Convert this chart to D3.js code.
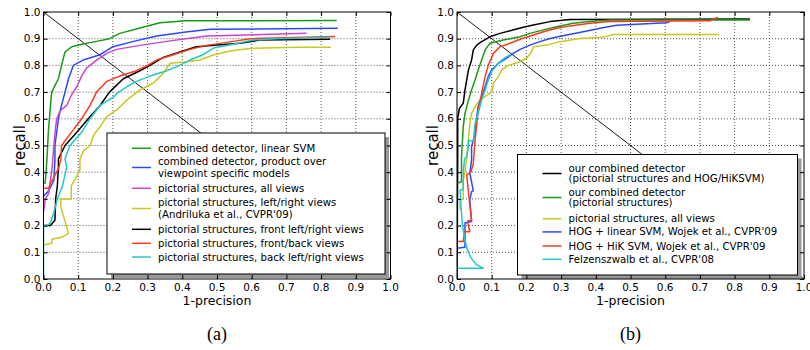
<!DOCTYPE html>
<html>
<head>
<meta charset="utf-8">
<script src="https://cdn.jsdelivr.net/npm/d3@7"></script>
<style>
  body { margin: 0; background: #fff; }
  text { font-family: "DejaVu Sans", sans-serif; fill: #000; }
</style>
</head>
<body>
<div id="chart"></div>
<script>
// ---- data (1-precision, recall) ----
const ticks = [0, 0.1, 0.2, 0.3, 0.4, 0.5, 0.6, 0.7, 0.8, 0.9, 1.0];

// panel (a)
const greenA = [[0,0.36],[0.005,0.36],[0.01,0.45],[0.014,0.55],[0.017,0.6],[0.022,0.68],[0.024,0.7],[0.035,0.73],[0.043,0.75],[0.052,0.8],[0.062,0.85],[0.081,0.87],[0.114,0.88],[0.153,0.89],[0.19,0.9],[0.22,0.92],[0.278,0.94],[0.336,0.96],[0.41,0.967],[0.845,0.968]];
const blueA = [[0,0.31],[0.015,0.33],[0.03,0.37],[0.033,0.45],[0.033,0.5],[0.043,0.6],[0.048,0.63],[0.062,0.7],[0.072,0.75],[0.086,0.8],[0.114,0.82],[0.163,0.84],[0.2,0.87],[0.26,0.89],[0.326,0.91],[0.41,0.925],[0.48,0.935],[0.848,0.939]];
const magentaA = [[0,0.25],[0.005,0.3],[0.015,0.32],[0.02,0.37],[0.025,0.42],[0.03,0.5],[0.035,0.57],[0.038,0.6],[0.048,0.63],[0.067,0.65],[0.081,0.69],[0.096,0.72],[0.11,0.76],[0.124,0.79],[0.153,0.82],[0.182,0.845],[0.21,0.86],[0.278,0.875],[0.355,0.89],[0.41,0.9],[0.47,0.91],[0.758,0.92]];
const yellowA = [[0,0.127],[0.024,0.134],[0.024,0.149],[0.052,0.156],[0.072,0.171],[0.05,0.27],[0.05,0.3],[0.08,0.3],[0.08,0.35],[0.09,0.37],[0.105,0.408],[0.105,0.45],[0.115,0.48],[0.134,0.5],[0.145,0.54],[0.163,0.57],[0.182,0.608],[0.211,0.633],[0.24,0.67],[0.278,0.708],[0.316,0.733],[0.345,0.77],[0.365,0.808],[0.413,0.814],[0.451,0.82],[0.489,0.839],[0.528,0.851],[0.557,0.858],[0.605,0.864],[0.73,0.868],[0.828,0.868]];
const blackA = [[0,0.2],[0.02,0.2],[0.033,0.22],[0.035,0.3],[0.04,0.35],[0.043,0.42],[0.043,0.45],[0.062,0.5],[0.096,0.55],[0.129,0.6],[0.163,0.65],[0.19,0.7],[0.23,0.75],[0.278,0.78],[0.307,0.8],[0.345,0.83],[0.393,0.85],[0.44,0.87],[0.566,0.883],[0.624,0.895],[0.826,0.898]];
const redA = [[0,0.34],[0.015,0.34],[0.02,0.36],[0.03,0.38],[0.045,0.42],[0.05,0.45],[0.052,0.5],[0.081,0.55],[0.11,0.6],[0.134,0.65],[0.153,0.7],[0.182,0.74],[0.22,0.76],[0.268,0.78],[0.3,0.8],[0.326,0.82],[0.374,0.84],[0.422,0.86],[0.47,0.875],[0.547,0.89],[0.595,0.9],[0.84,0.908]];
const cyanA = [[0,0],[0,0.2],[0.01,0.2],[0.02,0.21],[0.03,0.25],[0.04,0.3],[0.055,0.35],[0.06,0.38],[0.067,0.42],[0.062,0.45],[0.076,0.5],[0.11,0.55],[0.134,0.6],[0.163,0.65],[0.2,0.68],[0.216,0.7],[0.24,0.72],[0.268,0.74],[0.307,0.76],[0.355,0.78],[0.393,0.8],[0.422,0.82],[0.46,0.84],[0.49,0.865],[0.55,0.88],[0.604,0.895],[0.67,0.9],[0.826,0.905]];

// panel (b)
const blackB = [[0,0],[0.002,0.45],[0.002,0.602],[0.007,0.639],[0.018,0.658],[0.023,0.708],[0.028,0.745],[0.033,0.783],[0.042,0.82],[0.047,0.858],[0.057,0.876],[0.071,0.889],[0.095,0.907],[0.124,0.92],[0.153,0.93],[0.191,0.943],[0.22,0.951],[0.268,0.964],[0.326,0.972],[0.844,0.974]];
const greenB = [[0,0.358],[0.013,0.364],[0.013,0.458],[0.018,0.57],[0.023,0.62],[0.033,0.67],[0.042,0.708],[0.052,0.745],[0.061,0.783],[0.071,0.82],[0.081,0.858],[0.095,0.883],[0.133,0.895],[0.182,0.907],[0.21,0.92],[0.249,0.933],[0.287,0.945],[0.335,0.958],[0.383,0.964],[0.441,0.97],[0.844,0.97]];
const yellowB = [[0.009,0.258],[0.009,0.296],[0.018,0.3],[0.018,0.37],[0.023,0.4],[0.028,0.45],[0.037,0.583],[0.042,0.62],[0.052,0.645],[0.066,0.67],[0.086,0.689],[0.1,0.7],[0.105,0.733],[0.119,0.758],[0.129,0.783],[0.148,0.8],[0.182,0.814],[0.2,0.826],[0.215,0.851],[0.22,0.87],[0.258,0.876],[0.297,0.889],[0.354,0.901],[0.42,0.905],[0.45,0.916],[0.756,0.916]];
const blueB = [[0,0.115],[0.023,0.119],[0.023,0.21],[0.042,0.215],[0.037,0.296],[0.042,0.327],[0.047,0.33],[0.037,0.396],[0.042,0.446],[0.042,0.495],[0.052,0.546],[0.057,0.608],[0.061,0.645],[0.071,0.683],[0.081,0.72],[0.09,0.758],[0.1,0.783],[0.119,0.808],[0.143,0.827],[0.162,0.845],[0.182,0.86],[0.21,0.876],[0.239,0.889],[0.268,0.901],[0.316,0.914],[0.364,0.926],[0.412,0.939],[0.46,0.95],[0.604,0.96],[0.614,0.964]];
const redB = [[0,0.14],[0.018,0.14],[0.021,0.177],[0.037,0.177],[0.03,0.217],[0.042,0.22],[0.035,0.3],[0.028,0.39],[0.04,0.4],[0.047,0.433],[0.052,0.52],[0.057,0.583],[0.061,0.633],[0.071,0.695],[0.081,0.758],[0.09,0.8],[0.105,0.845],[0.124,0.87],[0.153,0.883],[0.182,0.898],[0.22,0.914],[0.249,0.926],[0.287,0.939],[0.326,0.948],[0.383,0.958],[0.441,0.964],[0.729,0.967],[0.744,0.976],[0.752,0.98]];
const cyanB = [[0,0.04],[0.076,0.04],[0.055,0.055],[0.04,0.08],[0.03,0.11],[0.022,0.15],[0.016,0.2],[0.012,0.26],[0.009,0.333],[0.018,0.333],[0.018,0.4],[0.022,0.45],[0.028,0.458],[0.033,0.495],[0.033,0.52],[0.047,0.514],[0.052,0.583],[0.061,0.62],[0.071,0.67],[0.081,0.708],[0.09,0.745],[0.1,0.777],[0.114,0.8],[0.129,0.82],[0.143,0.833],[0.153,0.839]];

const labelsA = [
  ['combined detector, linear SVM'],
  ['combined detector, product over', 'viewpoint specific models'],
  ['pictorial structures, all views'],
  ['pictorial structures, left/right views', '(Andriluka et al., CVPR\'09)'],
  ['pictorial structures, front left/right views'],
  ['pictorial structures, front/back views'],
  ['pictorial structures, back left/right views']
];
const labelsB = [
  ['our combined detector', '(pictorial structures and HOG/HiKSVM)'],
  ['our combined detector', '(pictorial structures)'],
  ['pictorial structures, all views'],
  ['HOG + linear SVM, Wojek et al., CVPR\'09'],
  ['HOG + HiK SVM, Wojek et al., CVPR\'09'],
  ['Felzenszwalb et al., CVPR\'08']
];

const C = { green: '#1a9a1a', blue: '#2a48ff', magenta: '#cc44cc', yellow: '#c8c820', black: '#000', red: '#ff3a1a', cyan: '#22c8c8' };

const panels = [
  { x0: 43.5, series: [greenA, blueA, magentaA, yellowA, blackA, redA, cyanA],
    colors: [C.green, C.blue, C.magenta, C.yellow, C.black, C.red, C.cyan],
    labels: labelsA, caption: '(a)',
    legend: { x: 107, y: 133, w: 278, h: 141, rows: [148.3, 167.5, 188.3, 208.5, 229.3, 243.3, 257], gap: 11.3 } },
  { x0: 457, series: [blackB, greenB, yellowB, blueB, redB, cyanB],
    colors: [C.black, C.green, C.yellow, C.blue, C.red, C.cyan],
    labels: labelsB, caption: '(b)',
    legend: { x: 517.5, y: 154.5, w: 280, h: 120.5, rows: [173.5, 197.5, 218.7, 231.9, 246, 259.3], gap: 10.6 } }
];

const W = 810, H = 350, plotW = 347, plotTop = 12, plotBottom = 279;

const svg = d3.select('#chart').append('svg').attr('width', W).attr('height', H);
svg.append('rect').attr('width', W).attr('height', H).attr('fill', '#fff');

panels.forEach(p => {
  const x = d3.scaleLinear().domain([0, 1]).range([p.x0, p.x0 + plotW]);
  const y = d3.scaleLinear().domain([0, 1]).range([plotBottom, plotTop]);
  const g = svg.append('g');

  const clipId = 'clip' + p.caption.replace(/\W/g, '');
  g.append('clipPath').attr('id', clipId).append('rect')
    .attr('x', x(0)).attr('y', y(1)).attr('width', plotW).attr('height', plotBottom - plotTop);

  // grid
  const inner = ticks.slice(1, -1);
  g.selectAll('.gx').data(inner).enter().append('line')
    .attr('x1', d => x(d)).attr('x2', d => x(d)).attr('y1', y(0)).attr('y2', y(1))
    .attr('stroke', '#555').attr('stroke-width', 1).attr('stroke-dasharray', '1,2');
  g.selectAll('.gy').data(inner).enter().append('line')
    .attr('y1', d => y(d)).attr('y2', d => y(d)).attr('x1', x(0)).attr('x2', x(1))
    .attr('stroke', '#555').attr('stroke-width', 1).attr('stroke-dasharray', '1,2');

  // diagonal
  g.append('line').attr('x1', x(0)).attr('y1', y(1)).attr('x2', x(1)).attr('y2', y(0))
    .attr('stroke', '#000').attr('stroke-width', 0.9);

  // curves
  const line = d3.line().x(d => x(d[0])).y(d => y(d[1]));
  const curves = g.append('g').attr('clip-path', `url(#${clipId})`);
  p.series.forEach((s, i) => {
    curves.append('path').attr('d', line(s)).attr('fill', 'none')
      .attr('stroke', p.colors[i]).attr('stroke-width', 1.5).attr('stroke-linejoin', 'round');
  });

  // legend with shadow
  const L = p.legend;
  g.append('rect').attr('x', L.x + 4).attr('y', L.y + 4).attr('width', L.w).attr('height', L.h)
    .attr('fill', '#999');
  g.append('rect').attr('x', L.x).attr('y', L.y).attr('width', L.w).attr('height', L.h)
    .attr('fill', '#fff').attr('stroke', '#000').attr('stroke-width', 1);
  const lx0 = L.x + 25, lx1 = L.x + 44, tx = L.x + 51;
  p.labels.forEach((lab, i) => {
    const cy = L.rows[i];
    g.append('line').attr('x1', lx0).attr('x2', lx1).attr('y1', cy).attr('y2', cy)
      .attr('stroke', p.colors[i]).attr('stroke-width', 1.5);
    const n = lab.length;
    lab.forEach((t, k) => {
      g.append('text').attr('x', tx).attr('y', cy + (k - (n - 1) / 2) * L.gap)
        .attr('dy', '0.35em').attr('font-size', '10.2px').text(t);
    });
  });

  // axes frame
  g.append('rect').attr('x', x(0)).attr('y', y(1)).attr('width', plotW).attr('height', plotBottom - plotTop)
    .attr('fill', 'none').attr('stroke', '#000').attr('stroke-width', 1);

  // inward ticks on all sides
  g.append('g').attr('transform', `translate(0,${y(0)})`)
    .call(d3.axisTop(x).tickValues(ticks).tickSize(4).tickFormat(''))
    .call(a => a.select('.domain').remove());
  g.append('g').attr('transform', `translate(0,${y(1)})`)
    .call(d3.axisBottom(x).tickValues(ticks).tickSize(4).tickFormat(''))
    .call(a => a.select('.domain').remove());
  g.append('g').attr('transform', `translate(${x(0)},0)`)
    .call(d3.axisRight(y).tickValues(ticks).tickSize(4).tickFormat(''))
    .call(a => a.select('.domain').remove());
  g.append('g').attr('transform', `translate(${x(1)},0)`)
    .call(d3.axisLeft(y).tickValues(ticks).tickSize(4).tickFormat(''))
    .call(a => a.select('.domain').remove());

  // tick labels
  g.selectAll('.xl').data(ticks).enter().append('text')
    .attr('x', d => x(d)).attr('y', plotBottom + 8).attr('dy', '0.35em')
    .attr('text-anchor', 'middle').attr('font-size', '10.5px').text(d => d.toFixed(1));
  g.selectAll('.yl').data(ticks).enter().append('text')
    .attr('x', x(0) - 3).attr('y', d => y(d)).attr('dy', '0.35em')
    .attr('text-anchor', 'end').attr('font-size', '10.5px').text(d => d.toFixed(1));

  // axis titles
  g.append('text').attr('x', x(0.5)).attr('y', 301).attr('dy', '0.35em')
    .attr('text-anchor', 'middle').attr('font-size', '12.5px').text('1-precision');
  g.append('text').attr('transform', `translate(${x(0) - 24},${y(0.5)}) rotate(-90)`)
    .attr('dy', '0.35em').attr('text-anchor', 'middle').attr('font-size', '15px').text('recall');

  g.append('text').attr('x', x(0.5)).attr('y', 334).attr('dy', '0.35em')
    .attr('text-anchor', 'middle').attr('font-size', '18px')
    .style('font-family', '"Liberation Serif", serif').text(p.caption);
});
</script>
</body>
</html>
